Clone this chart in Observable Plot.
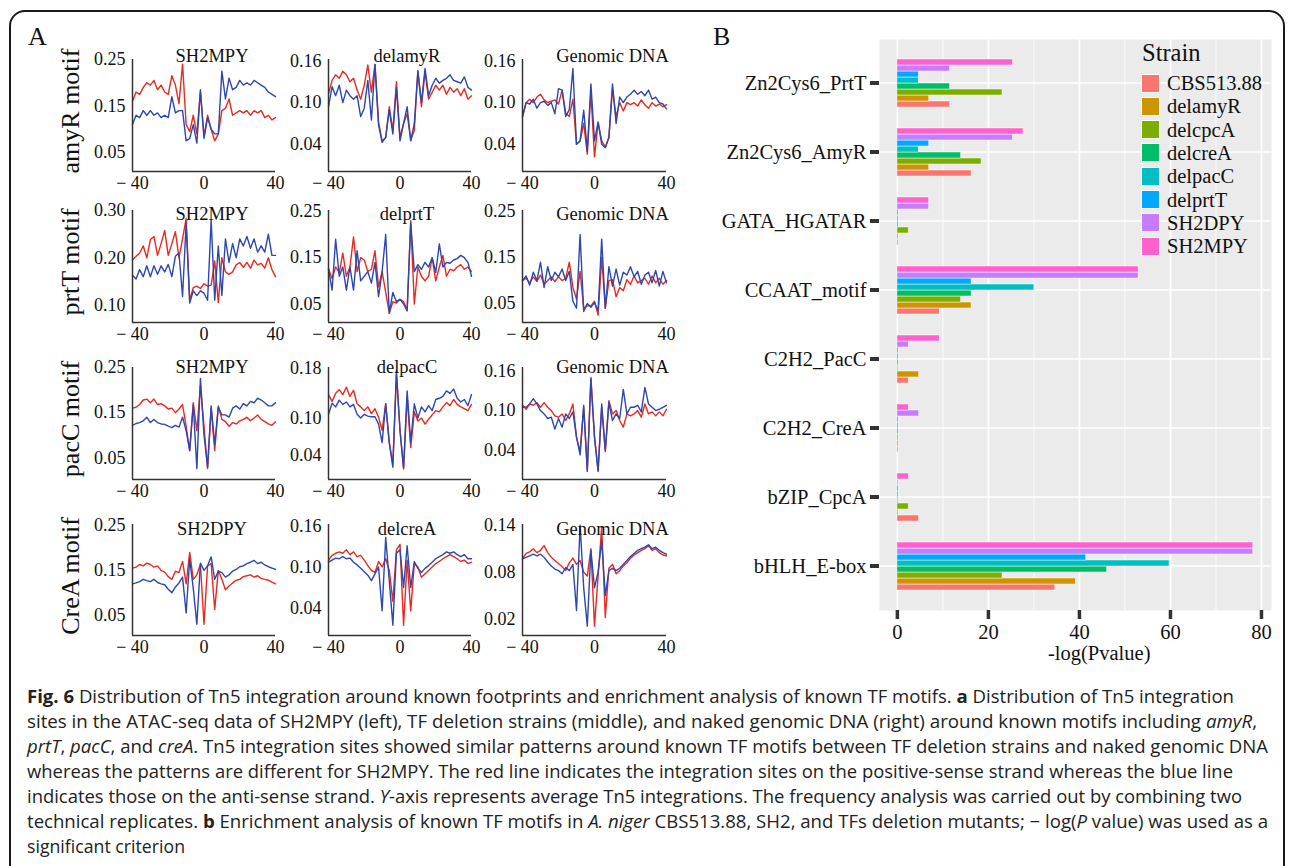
<!DOCTYPE html>
<html><head><meta charset="utf-8">
<script src="https://cdn.jsdelivr.net/npm/d3@7"></script>
<script src="https://cdn.jsdelivr.net/npm/@observablehq/plot@0.6"></script>
<style>
html,body{margin:0;padding:0;background:#fff;overflow:hidden;width:1295px;height:866px;}
#root{position:relative;width:1295px;height:866px;overflow:hidden;}
.frame{position:absolute;left:9px;top:10px;width:1276px;height:940px;border:2px solid #1a1a1a;border-radius:16px;box-sizing:border-box;}
.abs{position:absolute;}
.serif{font-family:"Liberation Serif","Times New Roman",serif;color:#111;}
.rowlab{position:absolute;width:220px;height:30px;line-height:30px;text-align:center;font-size:26px;white-space:nowrap;transform:rotate(-90deg);}
.cap{position:absolute;left:27px;font-family:"Open Sans","Noto Sans",sans-serif;font-size:18px;line-height:25px;color:#222;white-space:nowrap;transform-origin:0 50%;}
.leg-row{position:absolute;left:0;height:20px;display:flex;align-items:center;}
.leg-key{width:19px;height:19px;box-sizing:border-box;border:1px solid #fff;margin-right:7px;}
.leg-txt{font-size:20.5px;line-height:20px;}
</style></head>
<body><div id="root"><div class="frame"></div></div>
<script>
// ---------------- Panel A data ----------------
const positions = [-40,-38,-36,-34,-32,-30,-28,-26,-24,-22,-20,-18,-16,-14,-12,-10,-8,-6,-4,-2,0,2,4,6,8,10,12,14,16,18,20,22,24,26,28,30,32,34,36,38,40];
const xTicksA = [-40, 0, 40];
const rowMotifs = ["amyR motif", "prtT motif", "pacC motif", "CreA motif"];
const panelTitles = [
  ["SH2MPY", "delamyR", "Genomic DNA"],
  ["SH2MPY", "delprtT", "Genomic DNA"],
  ["SH2MPY", "delpacC", "Genomic DNA"],
  ["SH2DPY", "delcreA", "Genomic DNA"]
];
const yTickSets = [
  [[0.05,0.15,0.25],[0.04,0.10,0.16],[0.04,0.10,0.16]],
  [[0.10,0.20,0.30],[0.05,0.15,0.25],[0.05,0.15,0.25]],
  [[0.05,0.15,0.25],[0.04,0.10,0.18],[0.04,0.10,0.16]],
  [[0.05,0.15,0.25],[0.04,0.10,0.16],[0.02,0.08,0.14]]
];
const yDomains = [
  [[0.009,0.25],[0.001,0.162],[0.001,0.162]],
  [[0.063,0.30],[0.010,0.252],[0.009,0.252]],
  [[0.002,0.25],[0.000,0.182],[-0.004,0.165]],
  [[0.005,0.252],[0.000,0.162],[-0.001,0.141]]
];

// red = positive-sense strand, blue = anti-sense strand
const amyR_SH2MPY_plus  = [0.160,0.180,0.175,0.190,0.200,0.195,0.205,0.185,0.195,0.180,0.175,0.215,0.195,0.155,0.240,0.110,0.095,0.130,0.090,0.180,0.085,0.130,0.100,0.075,0.090,0.140,0.145,0.165,0.130,0.135,0.140,0.135,0.140,0.130,0.140,0.135,0.140,0.125,0.130,0.120,0.125];
const amyR_SH2MPY_minus = [0.110,0.130,0.125,0.140,0.130,0.140,0.130,0.135,0.125,0.130,0.125,0.170,0.135,0.140,0.140,0.075,0.080,0.110,0.070,0.185,0.080,0.125,0.100,0.090,0.090,0.225,0.165,0.210,0.185,0.190,0.205,0.195,0.200,0.195,0.205,0.200,0.195,0.190,0.180,0.175,0.170];
const amyR_del_plus     = [0.113,0.132,0.140,0.135,0.145,0.140,0.130,0.135,0.118,0.105,0.125,0.154,0.115,0.155,0.072,0.045,0.050,0.094,0.060,0.130,0.050,0.070,0.084,0.046,0.060,0.145,0.094,0.145,0.105,0.115,0.125,0.118,0.125,0.112,0.122,0.115,0.120,0.110,0.120,0.105,0.110];
const amyR_del_minus    = [0.094,0.123,0.110,0.125,0.100,0.118,0.110,0.105,0.110,0.080,0.092,0.132,0.075,0.155,0.068,0.043,0.050,0.090,0.055,0.122,0.045,0.070,0.094,0.045,0.070,0.146,0.100,0.149,0.110,0.125,0.135,0.128,0.132,0.135,0.140,0.132,0.130,0.128,0.137,0.122,0.118];
const amyR_gDNA_plus    = [0.080,0.100,0.105,0.100,0.108,0.112,0.104,0.100,0.102,0.104,0.098,0.118,0.085,0.080,0.105,0.040,0.045,0.070,0.026,0.115,0.022,0.072,0.045,0.036,0.050,0.120,0.080,0.100,0.088,0.100,0.097,0.100,0.095,0.104,0.097,0.092,0.100,0.095,0.098,0.094,0.097];
const amyR_gDNA_minus   = [0.080,0.100,0.098,0.105,0.092,0.100,0.102,0.096,0.100,0.084,0.120,0.118,0.080,0.090,0.149,0.040,0.045,0.089,0.030,0.127,0.045,0.072,0.040,0.035,0.050,0.127,0.070,0.108,0.100,0.108,0.112,0.118,0.112,0.116,0.110,0.118,0.105,0.108,0.100,0.098,0.091];

const prtT_SH2MPY_plus  = [0.196,0.203,0.210,0.225,0.200,0.238,0.245,0.205,0.230,0.258,0.205,0.230,0.255,0.200,0.240,0.283,0.110,0.137,0.140,0.135,0.145,0.140,0.142,0.193,0.105,0.200,0.170,0.165,0.170,0.185,0.190,0.180,0.190,0.178,0.195,0.185,0.188,0.178,0.200,0.175,0.160];
const prtT_SH2MPY_minus = [0.163,0.155,0.175,0.160,0.183,0.160,0.183,0.165,0.183,0.170,0.186,0.160,0.203,0.210,0.118,0.273,0.104,0.130,0.120,0.130,0.125,0.110,0.280,0.110,0.225,0.120,0.240,0.190,0.230,0.200,0.240,0.225,0.245,0.220,0.240,0.212,0.225,0.212,0.250,0.205,0.205];
const prtT_del_plus     = [0.126,0.105,0.130,0.118,0.160,0.110,0.130,0.195,0.120,0.150,0.145,0.120,0.125,0.165,0.087,0.120,0.075,0.030,0.055,0.052,0.060,0.055,0.037,0.230,0.050,0.130,0.110,0.100,0.110,0.150,0.100,0.130,0.155,0.110,0.125,0.122,0.130,0.135,0.125,0.130,0.120];
const prtT_del_minus    = [0.126,0.080,0.190,0.110,0.130,0.080,0.130,0.080,0.165,0.100,0.110,0.120,0.095,0.140,0.066,0.120,0.200,0.030,0.075,0.055,0.060,0.050,0.035,0.225,0.120,0.135,0.125,0.140,0.130,0.150,0.118,0.180,0.130,0.140,0.138,0.145,0.148,0.155,0.150,0.140,0.110];
const prtT_gDNA_plus    = [0.100,0.105,0.095,0.108,0.098,0.112,0.092,0.100,0.108,0.098,0.108,0.100,0.105,0.140,0.085,0.060,0.120,0.040,0.045,0.045,0.055,0.025,0.150,0.040,0.100,0.102,0.065,0.085,0.078,0.102,0.092,0.110,0.095,0.100,0.105,0.092,0.110,0.095,0.105,0.092,0.100];
const prtT_gDNA_minus   = [0.100,0.110,0.090,0.118,0.100,0.140,0.085,0.130,0.100,0.118,0.108,0.125,0.100,0.120,0.055,0.040,0.200,0.033,0.050,0.042,0.052,0.035,0.190,0.040,0.130,0.088,0.125,0.090,0.118,0.112,0.130,0.108,0.120,0.092,0.112,0.118,0.095,0.122,0.088,0.120,0.095];

const pacC_SH2MPY_plus  = [0.160,0.162,0.168,0.178,0.180,0.172,0.180,0.168,0.170,0.165,0.158,0.160,0.150,0.158,0.168,0.120,0.066,0.172,0.110,0.210,0.120,0.026,0.160,0.066,0.165,0.135,0.130,0.120,0.128,0.125,0.132,0.135,0.140,0.132,0.138,0.145,0.135,0.130,0.125,0.122,0.130];
const pacC_SH2MPY_minus = [0.122,0.126,0.128,0.132,0.140,0.128,0.135,0.128,0.125,0.124,0.120,0.117,0.122,0.118,0.140,0.110,0.066,0.168,0.026,0.226,0.100,0.030,0.165,0.080,0.162,0.145,0.145,0.140,0.160,0.165,0.158,0.170,0.165,0.175,0.172,0.182,0.178,0.172,0.165,0.165,0.172];
const pacC_del_plus     = [0.138,0.127,0.140,0.146,0.138,0.150,0.135,0.145,0.123,0.118,0.112,0.118,0.107,0.115,0.101,0.080,0.123,0.060,0.025,0.170,0.080,0.017,0.134,0.052,0.110,0.095,0.100,0.090,0.098,0.105,0.112,0.110,0.118,0.125,0.120,0.130,0.122,0.118,0.115,0.112,0.122];
const pacC_del_minus    = [0.106,0.124,0.118,0.129,0.122,0.126,0.118,0.122,0.106,0.100,0.106,0.103,0.102,0.102,0.090,0.060,0.123,0.060,0.020,0.177,0.080,0.019,0.144,0.060,0.123,0.100,0.118,0.110,0.120,0.112,0.130,0.132,0.135,0.144,0.140,0.147,0.132,0.126,0.130,0.120,0.138];
const pacC_gDNA_plus    = [0.108,0.102,0.110,0.108,0.112,0.105,0.112,0.105,0.100,0.092,0.090,0.095,0.085,0.095,0.110,0.060,0.038,0.105,0.010,0.150,0.060,0.010,0.105,0.038,0.115,0.095,0.100,0.085,0.075,0.095,0.092,0.095,0.100,0.090,0.110,0.095,0.098,0.092,0.098,0.092,0.102];
const pacC_gDNA_minus   = [0.105,0.105,0.110,0.118,0.110,0.100,0.095,0.088,0.090,0.072,0.088,0.075,0.095,0.088,0.098,0.060,0.033,0.108,0.008,0.148,0.060,0.008,0.110,0.040,0.112,0.085,0.095,0.088,0.132,0.095,0.105,0.105,0.108,0.098,0.135,0.110,0.105,0.100,0.102,0.105,0.108];

const creA_SH2DPY_plus  = [0.155,0.157,0.163,0.160,0.166,0.163,0.157,0.160,0.150,0.146,0.136,0.130,0.148,0.145,0.170,0.120,0.190,0.130,0.140,0.163,0.030,0.160,0.165,0.063,0.150,0.130,0.107,0.115,0.122,0.128,0.130,0.136,0.138,0.140,0.135,0.138,0.132,0.130,0.128,0.124,0.120];
const creA_SH2DPY_minus = [0.120,0.122,0.125,0.130,0.127,0.125,0.130,0.123,0.120,0.118,0.108,0.100,0.113,0.122,0.135,0.055,0.175,0.110,0.030,0.166,0.150,0.160,0.180,0.130,0.148,0.145,0.135,0.140,0.148,0.152,0.158,0.160,0.165,0.168,0.172,0.165,0.168,0.162,0.158,0.155,0.152];
const creA_del_plus     = [0.110,0.117,0.120,0.122,0.120,0.125,0.118,0.122,0.115,0.117,0.110,0.102,0.095,0.092,0.108,0.100,0.112,0.095,0.050,0.125,0.133,0.015,0.110,0.036,0.105,0.100,0.085,0.090,0.095,0.100,0.105,0.108,0.112,0.115,0.118,0.115,0.112,0.108,0.110,0.105,0.107];
const creA_del_minus    = [0.107,0.110,0.113,0.112,0.115,0.112,0.113,0.107,0.103,0.098,0.093,0.088,0.080,0.090,0.100,0.036,0.143,0.080,0.015,0.120,0.125,0.070,0.131,0.070,0.108,0.098,0.092,0.098,0.102,0.107,0.112,0.115,0.118,0.122,0.120,0.122,0.118,0.115,0.118,0.112,0.112];
const creA_gDNA_plus    = [0.097,0.104,0.106,0.110,0.105,0.108,0.114,0.105,0.099,0.095,0.091,0.087,0.082,0.092,0.098,0.090,0.095,0.080,0.075,0.110,0.011,0.075,0.138,0.022,0.085,0.090,0.078,0.082,0.088,0.092,0.098,0.102,0.105,0.108,0.110,0.114,0.108,0.110,0.105,0.102,0.101];
const creA_gDNA_minus   = [0.097,0.099,0.101,0.103,0.101,0.103,0.099,0.093,0.088,0.084,0.082,0.078,0.086,0.082,0.090,0.031,0.140,0.060,0.011,0.108,0.060,0.080,0.120,0.050,0.082,0.085,0.082,0.085,0.090,0.095,0.100,0.104,0.108,0.110,0.112,0.115,0.110,0.112,0.108,0.105,0.103];

const seriesGrid = [
  [[amyR_SH2MPY_plus, amyR_SH2MPY_minus], [amyR_del_plus, amyR_del_minus], [amyR_gDNA_plus, amyR_gDNA_minus]],
  [[prtT_SH2MPY_plus, prtT_SH2MPY_minus], [prtT_del_plus, prtT_del_minus], [prtT_gDNA_plus, prtT_gDNA_minus]],
  [[pacC_SH2MPY_plus, pacC_SH2MPY_minus], [pacC_del_plus, pacC_del_minus], [pacC_gDNA_plus, pacC_gDNA_minus]],
  [[creA_SH2DPY_plus, creA_SH2DPY_minus], [creA_del_plus, creA_del_minus], [creA_gDNA_plus, creA_gDNA_minus]]
];

// ---------------- Panel B data ----------------
const motifs = ["Zn2Cys6_PrtT","Zn2Cys6_AmyR","GATA_HGATAR","CCAAT_motif","C2H2_PacC","C2H2_CreA","bZIP_CpcA","bHLH_E-box"];
const strains = ["CBS513.88","delamyR","delcpcA","delcreA","delpacC","delprtT","SH2DPY","SH2MPY"];
const strainColors = ["#F8766D","#CD9600","#7CAE00","#00BE67","#00BFC4","#00A9FF","#C77CFF","#FF61CC"];
const val_CBS51388 = [11.6, 16.3, 0.25, 9.3, 2.5, 0.25, 4.8, 34.7];
const val_delamyR  = [7.0, 7.0, 0.25, 16.3, 4.8, 0.25, 0.25, 39.2];
const val_delcpcA  = [23.1, 18.5, 2.5, 14.0, 0.2, 0.25, 2.5, 23.1];
const val_delcreA  = [11.6, 14.0, 0.25, 16.3, 0.25, 0.25, 0.2, 46.1];
const val_delpacC  = [4.7, 4.7, 0.25, 30.1, 0.25, 0.25, 0.25, 59.8];
const val_delprtT  = [4.7, 7.0, 0.25, 16.3, 0.25, 0.25, 0.25, 41.5];
const val_SH2DPY   = [11.6, 25.4, 7.0, 53.0, 2.5, 4.8, 0.25, 78.2];
const val_SH2MPY   = [25.4, 27.7, 7.0, 53.0, 9.3, 2.5, 2.5, 78.2];
const strainValues = [val_CBS51388, val_delamyR, val_delcpcA, val_delcreA, val_delpacC, val_delprtT, val_SH2DPY, val_SH2MPY];
const xTicksMajorB = [0, 20, 40, 60, 80];
const xTicksMinorB = [10, 30, 50, 70];

// ---------------- layout ----------------
const root = document.getElementById("root");
const SERIF = "'Liberation Serif','Times New Roman',serif";
const RED = "#E8291F", BLUE = "#2C47B0";
const colX = [132, 328, 522], colW = [143, 143, 144];
const rowY = [59, 210, 367, 524], rowH = [112, 112, 112, 111];
const titleDx = [8, 7, 18], titleDy = [-3, 4, 0, 5];
const ML = 62, MR = 20, MT = 24, MB = 30;
const fmtX = d => d < 0 ? "\u2212 " + Math.abs(d) : String(d);

function place(el, left, top) {
  el.style.position = "absolute";
  el.style.left = left + "px";
  el.style.top = top + "px";
  root.appendChild(el);
}
function addText(txt, cls, left, top, css) {
  const d = document.createElement("div");
  d.className = cls; d.textContent = txt;
  Object.assign(d.style, css || {});
  place(d, left, top);
  return d;
}

addText("A", "serif", 28, 22, {fontSize: "26px", lineHeight: "30px"});
addText("B", "serif", 713, 22, {fontSize: "26px", lineHeight: "30px"});

for (let r = 0; r < 4; r++) {
  const lab = document.createElement("div");
  lab.className = "rowlab serif";
  lab.textContent = rowMotifs[r];
  const cy = rowY[r] + rowH[r] / 2 - 4;
  place(lab, 71 - 110, cy - 15);
  for (let c = 0; c < 3; c++) {
    const [plus, minus] = seriesGrid[r][c];
    const pts = positions.map((p, i) => ({pos: p, plus: plus[i], minus: minus[i]}));
    const dom = yDomains[r][c];
    const svg = Plot.plot({
      width: ML + colW[c] + MR, height: MT + rowH[r] + MB,
      marginLeft: ML, marginRight: MR, marginTop: MT, marginBottom: MB,
      style: {fontFamily: SERIF, fontSize: "18px", color: "#111", background: "transparent", overflow: "visible"},
      x: {domain: [-40, 40], ticks: xTicksA, tickSize: 0, tickPadding: 5, tickFormat: fmtX, label: null},
      y: {domain: dom, ticks: yTickSets[r][c], tickSize: 0, tickPadding: 7, tickFormat: d3.format(".2f"), label: null},
      marks: [
        Plot.line(pts, {x: "pos", y: "plus", stroke: RED, strokeWidth: 1.4}),
        Plot.line(pts, {x: "pos", y: "minus", stroke: BLUE, strokeWidth: 1.4}),
        Plot.ruleX([-40], {stroke: "#333", strokeWidth: 1.5}),
        Plot.ruleY([dom[0]], {stroke: "#333", strokeWidth: 1.5}),
        Plot.text([panelTitles[r][c]], {text: d => d, frameAnchor: "top", lineAnchor: "middle", dx: titleDx[c], dy: titleDy[r], fontSize: 18.5, fill: "#111"})
      ]
    });
    place(svg, colX[c] - ML, rowY[r] - MT);
  }
}

// ---------------- Panel B ----------------
const BML = 179, BMR = 10, BMT = 19, BMB = 45;
const BW = BML + 392 + BMR, BH = BMT + 571 + BMB;
const xDomainB = [-3.93, 82.2];
const bg = Plot.plot({
  width: BW, height: BH, marginLeft: BML, marginRight: BMR, marginTop: BMT, marginBottom: BMB,
  style: {fontFamily: SERIF, fontSize: "20.5px", color: "#111", background: "transparent", overflow: "visible"},
  x: {domain: xDomainB},
  y: {type: "band", domain: motifs, paddingInner: 0.2, paddingOuter: 0.2},
  marks: [
    Plot.frame({fill: "#EBEBEB", stroke: "none"}),
    Plot.gridX(xTicksMinorB, {stroke: "#fff", strokeOpacity: 1, strokeWidth: 0.8}),
    Plot.gridX(xTicksMajorB, {stroke: "#fff", strokeOpacity: 1, strokeWidth: 1.7}),
    Plot.gridY({stroke: "#fff", strokeOpacity: 1, strokeWidth: 1.7}),
    Plot.axisX(xTicksMajorB, {tickSize: 9, tickPadding: 5, stroke: "#333", strokeWidth: 3.5, label: null, fontFamily: SERIF, fontSize: 20.5}),
    Plot.axisY({tickSize: 9, tickPadding: 4, stroke: "#333", strokeWidth: 4, label: null, fontFamily: SERIF, fontSize: 20.5})
  ]
});
place(bg, 700, 20);

const barRows = [];
motifs.forEach((m, j) => strains.forEach((s, k) => barRows.push({motif: m, strain: s, value: strainValues[k][j]})));
const bars = Plot.plot({
  width: BW, height: BH, marginLeft: BML, marginRight: BMR, marginTop: BMT, marginBottom: BMB,
  style: {background: "transparent", overflow: "visible"},
  x: {domain: xDomainB, axis: null},
  y: {domain: strains.slice().reverse(), padding: 0, axis: null},
  fy: {domain: motifs, paddingInner: 0.2, paddingOuter: 0.2, axis: null},
  color: {domain: strains, range: strainColors},
  marks: [
    Plot.barX(barRows, {fy: "motif", y: "strain", x: "value", fill: "strain", stroke: "#fff", strokeWidth: 0.6, strokeOpacity: 0.8})
  ]
});
place(bars, 700, 20);

addText("-log(Pvalue)", "serif", 1048, 640, {fontSize: "20.5px", lineHeight: "26px"});

// legend
const leg = document.createElement("div");
leg.className = "serif";
leg.style.width = "140px"; leg.style.height = "230px";
place(leg, 1141, 38);
const legTitle = document.createElement("div");
legTitle.textContent = "Strain";
Object.assign(legTitle.style, {position: "absolute", left: "1px", top: "0px", fontSize: "24.5px", lineHeight: "30px"});
leg.appendChild(legTitle);
strains.forEach((s, i) => {
  const row = document.createElement("div");
  row.className = "leg-row";
  row.style.top = (35 + i * 23.3) + "px";
  const key = document.createElement("div");
  key.className = "leg-key"; key.style.background = strainColors[i];
  const t = document.createElement("div");
  t.className = "leg-txt"; t.textContent = s;
  row.appendChild(key); row.appendChild(t);
  leg.appendChild(row);
});

// ---------------- Caption ----------------
const captionLines = [
  "<b>Fig. 6</b> Distribution of Tn5 integration around known footprints and enrichment analysis of known TF motifs. <b>a</b> Distribution of Tn5 integration",
  "sites in the ATAC-seq data of SH2MPY (left), TF deletion strains (middle), and naked genomic DNA (right) around known motifs including <i>amyR</i>,",
  "<i>prtT</i>, <i>pacC</i>, and <i>creA</i>. Tn5 integration sites showed similar patterns around known TF motifs between TF deletion strains and naked genomic DNA",
  "whereas the patterns are different for SH2MPY. The red line indicates the integration sites on the positive-sense strand whereas the blue line",
  "indicates those on the anti-sense strand. <i>Y</i>-axis represents average Tn5 integrations. The frequency analysis was carried out by combining two",
  "technical replicates. <b>b</b> Enrichment analysis of known TF motifs in <i>A. niger</i> CBS513.88, SH2, and TFs deletion mutants; \u2212 log(<i>P</i> value) was used as a",
  "significant criterion"
];
const captionWidths = [1207, 1230, 1241, 1206, 1215, 1241, 158];
captionLines.forEach((html, i) => {
  const d = document.createElement("div");
  d.className = "cap";
  d.innerHTML = html;
  d.style.top = (684 + i * 25) + "px";
  root.appendChild(d);
  const w = d.getBoundingClientRect().width;
  d.style.transform = "scaleX(" + (captionWidths[i] / w) + ")";
});
</script>
</body></html>
